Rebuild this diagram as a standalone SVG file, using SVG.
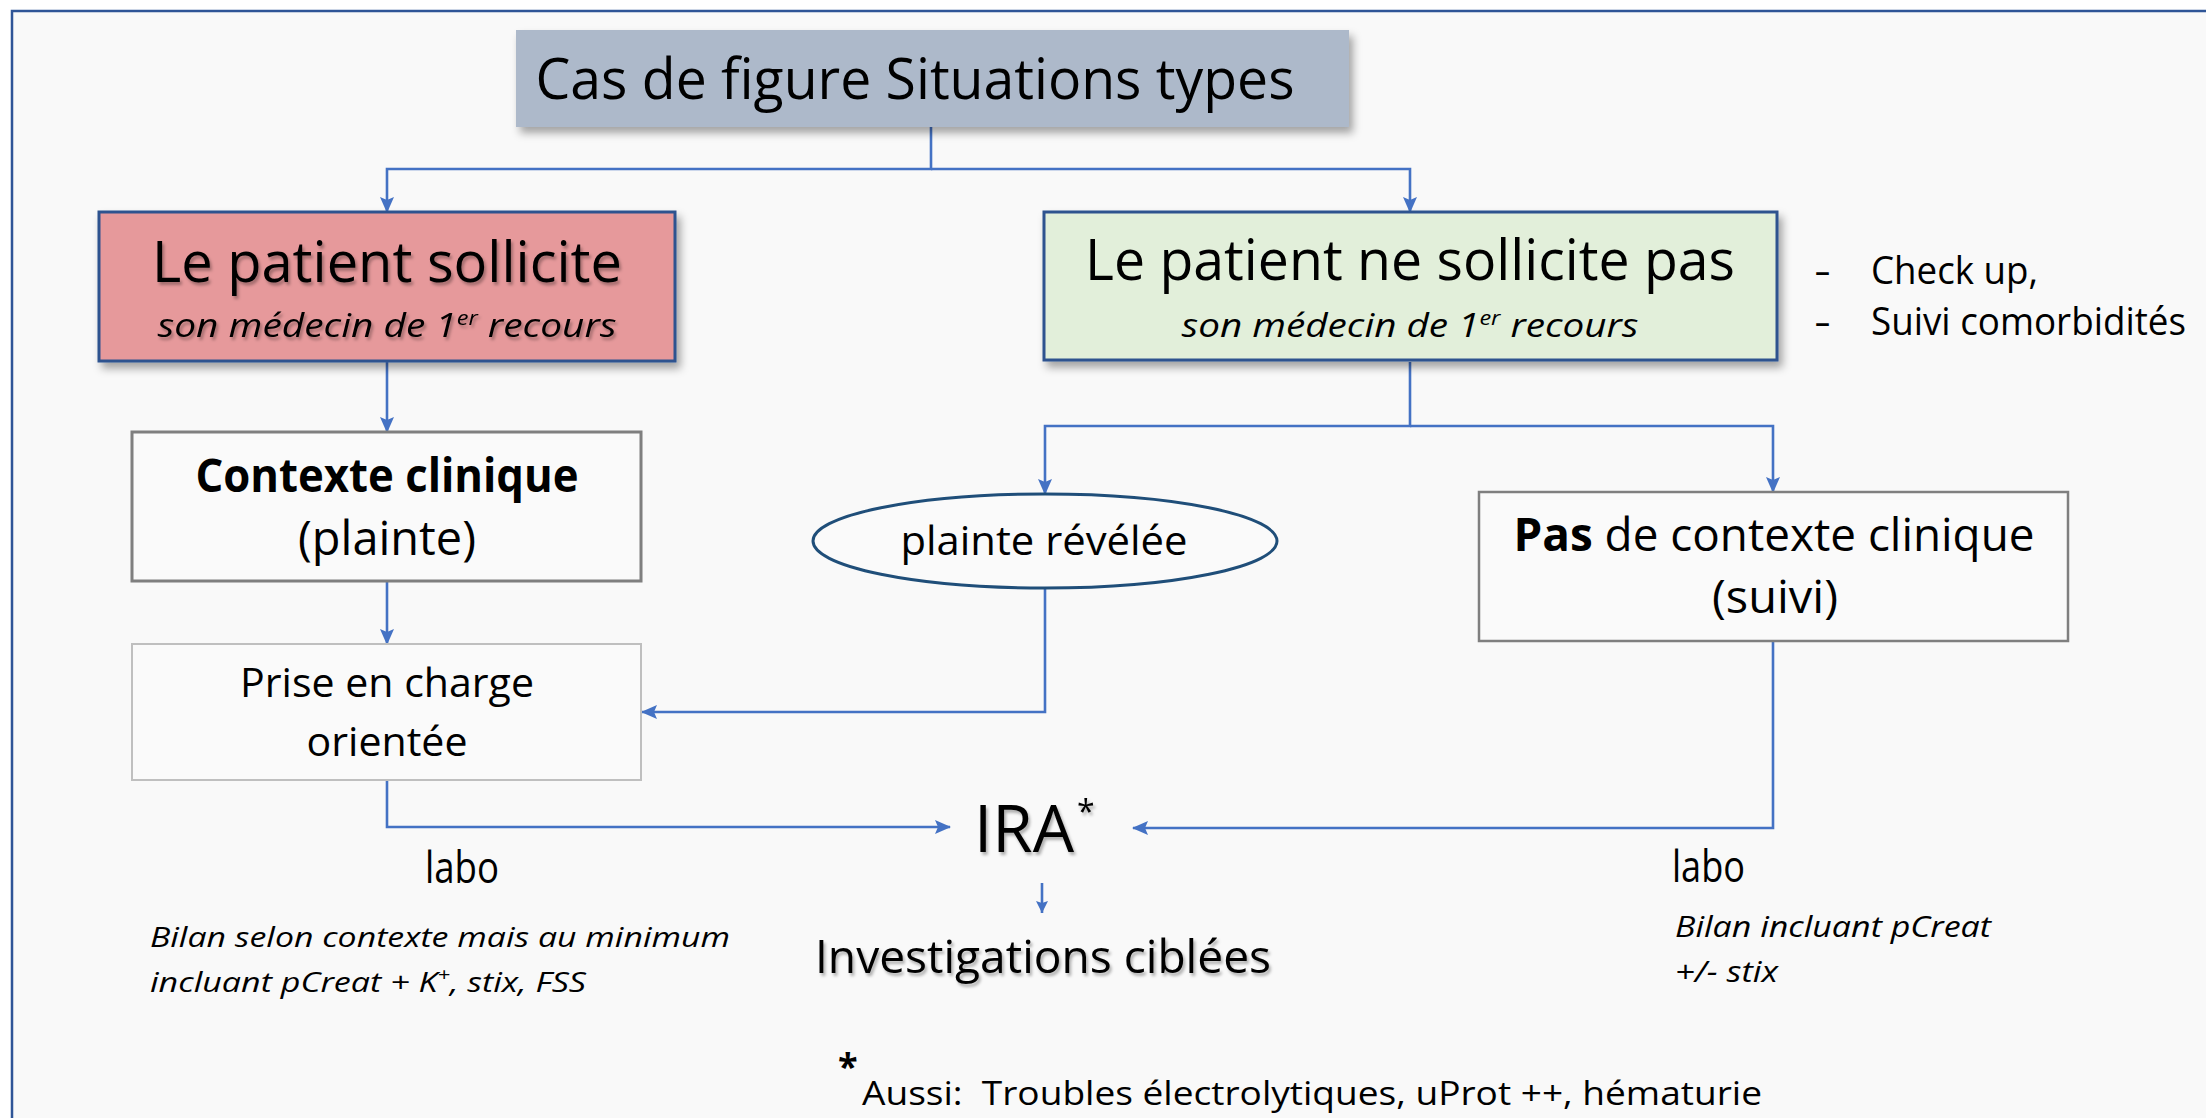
<svg xmlns="http://www.w3.org/2000/svg" width="2206" height="1118" viewBox="0 0 2206 1118">
<style>
text{font-family:"Open Sans","Noto Sans","Liberation Sans",sans-serif;fill:#000;}
.c{text-anchor:middle;}
.it{font-style:italic;}
.b{font-weight:bold;}
.conn{fill:none;stroke:#4472C4;stroke-width:2.6;}
.node{stroke-width:3;}
</style>
<defs>
<filter id="sh" x="-10%" y="-10%" width="125%" height="140%">
<feDropShadow dx="4" dy="6" stdDeviation="4" flood-color="#000" flood-opacity="0.35"/>
</filter>
<filter id="tsh" x="-5%" y="-10%" width="115%" height="140%">
<feDropShadow dx="2" dy="3" stdDeviation="1.5" flood-color="#000" flood-opacity="0.3"/>
</filter>
<marker id="ah" markerUnits="userSpaceOnUse" markerWidth="16" markerHeight="14" refX="15" refY="7" orient="auto">
<path d="M0,0 L16,7 L0,14 L3,7 z" fill="#4472C4"/>
</marker>
<marker id="ahs" markerUnits="userSpaceOnUse" markerWidth="12" markerHeight="12" refX="12" refY="6" orient="auto">
<path d="M0,0 L12,6 L0,12 L2,6 z" fill="#4472C4"/>
</marker>
</defs>
<rect x="0" y="0" width="2206" height="1118" fill="#FFFFFF"/>
<rect x="12" y="11" width="2220" height="1130" fill="#F9F9F9" stroke="#2F5597" stroke-width="2.5"/>

<g id="connectors">
<path class="conn" d="M931,127 V169 H387 V212" marker-end="url(#ah)"/>
<path class="conn" d="M931,169 H1410 V212" marker-end="url(#ah)"/>
<path class="conn" d="M387,362 V432" marker-end="url(#ah)"/>
<path class="conn" d="M387,581 V644" marker-end="url(#ah)"/>
<path class="conn" d="M1410,362 V426 H1045 V494" marker-end="url(#ah)"/>
<path class="conn" d="M1410,426 H1773 V492" marker-end="url(#ah)"/>
<path class="conn" d="M1045,588 V712 H642" marker-end="url(#ah)"/>
<path class="conn" d="M387,780 V827 H950" marker-end="url(#ah)"/>
<path class="conn" d="M1773,641 V828 H1133" marker-end="url(#ah)"/>
<path class="conn" d="M1042,883 V913" stroke-width="2" marker-end="url(#ahs)"/>
</g>

<g id="title">
<rect x="516" y="30" width="833" height="97" fill="#ADB9CA" filter="url(#sh)"/>
<text class="c" x="915" y="99" font-size="57" textLength="759" lengthAdjust="spacingAndGlyphs">Cas de figure Situations types</text>
</g>

<g id="sollicite">
<rect class="node" x="99" y="212" width="576" height="149" fill="#E6999B" stroke="#2F528F" filter="url(#sh)"/>
<g filter="url(#tsh)">
<text class="c" x="387" y="282" font-size="57" textLength="470" lengthAdjust="spacingAndGlyphs">Le patient sollicite</text>
<text class="c it" x="387" y="337" font-size="33" textLength="459" lengthAdjust="spacingAndGlyphs">son médecin de 1<tspan font-size="20" dy="-12">er</tspan><tspan dy="12"> recours</tspan></text>
</g>
</g>

<g id="ne-sollicite-pas">
<rect class="node" x="1044" y="212" width="733" height="148" fill="#E2EFDA" stroke="#2F528F" filter="url(#sh)"/>
<text class="c" x="1410" y="280" font-size="57" textLength="650" lengthAdjust="spacingAndGlyphs">Le patient ne sollicite pas</text>
<text class="c it" x="1410" y="337" font-size="33" textLength="457" lengthAdjust="spacingAndGlyphs">son médecin de 1<tspan font-size="20" dy="-12">er</tspan><tspan dy="12"> recours</tspan></text>
</g>

<g id="check-list">
<text x="1815" y="284" font-size="38" textLength="15" lengthAdjust="spacingAndGlyphs">–</text>
<text x="1871" y="284" font-size="38" textLength="167" lengthAdjust="spacingAndGlyphs">Check up,</text>
<text x="1815" y="335" font-size="38" textLength="15" lengthAdjust="spacingAndGlyphs">–</text>
<text x="1871" y="335" font-size="38" textLength="315" lengthAdjust="spacingAndGlyphs">Suivi comorbidités</text>
</g>

<g id="contexte-clinique">
<rect x="132" y="432" width="509" height="149" fill="#FAFAFA" stroke="#7F7F7F" stroke-width="3"/>
<text class="c b" x="387" y="492" font-size="47" textLength="383" lengthAdjust="spacingAndGlyphs">Contexte clinique</text>
<text class="c" x="387" y="555" font-size="47" textLength="178" lengthAdjust="spacingAndGlyphs">(plainte)</text>
</g>

<g id="prise-en-charge">
<rect x="132" y="644" width="509" height="136" fill="#FAFAFA" stroke="#BFBFBF" stroke-width="2"/>
<text class="c" x="387" y="697" font-size="41" textLength="294" lengthAdjust="spacingAndGlyphs">Prise en charge</text>
<text class="c" x="387" y="756" font-size="41" textLength="161" lengthAdjust="spacingAndGlyphs">orientée</text>
</g>

<g id="plainte-revelee">
<ellipse cx="1045" cy="541" rx="232" ry="47" fill="#FAFAFA" stroke="#1F4E79" stroke-width="3"/>
<text class="c" x="1044" y="555" font-size="40" textLength="287" lengthAdjust="spacingAndGlyphs">plainte révélée</text>
</g>

<g id="pas-contexte">
<rect x="1479" y="492" width="589" height="149" fill="#FAFAFA" stroke="#7F7F7F" stroke-width="2.5"/>
<text class="c" x="1774" y="551" font-size="46" textLength="521" lengthAdjust="spacingAndGlyphs"><tspan class="b">Pas</tspan> de contexte clinique</text>
<text class="c" x="1775" y="613" font-size="46" textLength="126" lengthAdjust="spacingAndGlyphs">(suivi)</text>
</g>

<g id="ira" filter="url(#tsh)">
<text x="974" y="852" font-size="66" textLength="100" lengthAdjust="spacingAndGlyphs">IRA</text>
<text x="1077" y="823" font-size="32">*</text>
</g>

<g id="investigations" filter="url(#tsh)">
<text class="c" x="1043" y="973" font-size="46" textLength="456" lengthAdjust="spacingAndGlyphs">Investigations ciblées</text>
</g>

<g id="labo-gauche">
<text x="425" y="883" font-size="43" textLength="74" lengthAdjust="spacingAndGlyphs">labo</text>
<text class="it" x="150" y="947" font-size="28" textLength="580" lengthAdjust="spacingAndGlyphs">Bilan selon contexte mais au minimum</text>
<text class="it" x="150" y="992" font-size="28" textLength="436" lengthAdjust="spacingAndGlyphs">incluant pCreat + K<tspan font-size="18" dy="-11">+</tspan><tspan dy="11">, stix, FSS</tspan></text>
</g>

<g id="labo-droite">
<text x="1672" y="882" font-size="43" textLength="73" lengthAdjust="spacingAndGlyphs">labo</text>
<text class="it" x="1675" y="937" font-size="30" textLength="316" lengthAdjust="spacingAndGlyphs">Bilan incluant pCreat</text>
<text class="it" x="1675" y="982" font-size="30" textLength="103" lengthAdjust="spacingAndGlyphs">+/- stix</text>
</g>

<g id="footnote">
<text class="b" x="838" y="1079" font-size="36">*</text>
<text x="862" y="1105" font-size="32" textLength="900" lengthAdjust="spacingAndGlyphs" xml:space="preserve">Aussi:  Troubles électrolytiques, uProt ++, hématurie</text>
</g>
</svg>
